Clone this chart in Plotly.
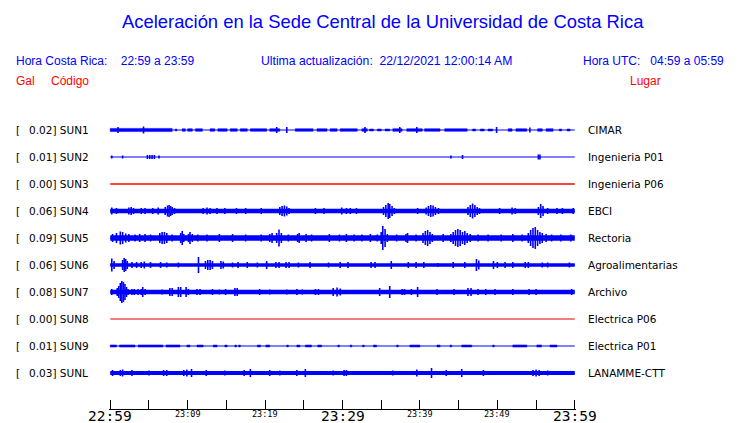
import plotly.graph_objects as go

# ---------------- data ----------------
CODES = ["SUN1", "SUN2", "SUN3", "SUN4", "SUN5", "SUN6", "SUN7", "SUN8", "SUN9", "SUNL"]
PLACES = ["CIMAR", "Ingenieria P01", "Ingenieria P06", "EBCI", "Rectoria",
          "Agroalimentarias", "Archivo", "Electrica P06", "Electrica P01", "LANAMME-CTT"]
GAL = [0.02, 0.01, 0.00, 0.06, 0.09, 0.06, 0.08, 0.00, 0.01, 0.03]
ACTIVE = [True, True, False, True, True, True, True, False, True, True]

# steady background noise half-amplitude (trace units)
BAND = [0, 0, 0, 2.3, 2.7, 1.8, 2.2, 0, 0, 2.0]

# intermittent activity windows: (start_min, end_min, half-amplitude)
SEG_SUN1 = [(0, 8, 1.6), (8.4, 8.6, 1.0), (9.3, 9.7, 1.3), (10, 10.6, 1.3), (11, 11.9, 1.3),
            (12.9, 13.5, 1.3), (13.9, 15.1, 1.3), (15.5, 16.4, 1.3), (16.8, 17.7, 1.3),
            (18.1, 20.2, 1.3), (20.6, 21.9, 1.3), (23.9, 26.2, 1.3), (26.7, 28, 1.3),
            (28.4, 29.3, 1.3), (29.7, 31.9, 1.3), (32.5, 33.2, 1.3), (33.5, 34, 1.0),
            (34.5, 35, 1.0), (35.5, 36.1, 1.0), (36.5, 37.7, 1.3), (38.3, 40.3, 1.3),
            (40.6, 42.6, 1.3), (43.2, 46.1, 1.3), (46.8, 47.2, 1.0), (47.8, 48.3, 1.0),
            (48.8, 49.4, 1.0), (51.4, 51.9, 1.3), (52.4, 53.8, 1.3), (55.2, 55.8, 1.3),
            (56.3, 57.2, 1.3), (58, 58.3, 1.0), (59, 59.4, 1.0)]
SEG_SUN9 = [(0, 0.8, 1.1), (1.2, 3.2, 1.1), (3.6, 6.8, 1.1), (7.2, 9, 1.1), (9.9, 10.3, 1.0),
            (11.2, 12, 1.0), (13.3, 13.8, 1.0), (14.8, 15.1, 1.0), (16.1, 16.3, 1.0),
            (16.6, 16.8, 1.0), (19, 19.4, 1.0), (20.1, 20.6, 1.0), (22.8, 23, 1.0),
            (24.1, 24.5, 1.0), (25.2, 26, 1.0), (26.8, 27.3, 1.0), (29.4, 29.6, 1.0),
            (31, 31.2, 1.0), (32.6, 32.8, 1.0), (34, 34.4, 1.0), (37, 37.2, 1.0),
            (38.7, 40, 1.0), (42.2, 42.6, 1.0), (43.9, 44.1, 1.0), (45.4, 46.7, 1.0),
            (49.4, 49.6, 1.0), (52, 53.8, 1.1), (55.1, 55.7, 1.1), (56.8, 57.7, 1.0)]

# peaks: (minute, half-amplitude)
SPK_SUN1 = [(1, 3), (4.3, 3.5), (21.5, 3), (22.8, 3), (32.9, 3), (37.4, 3), (39.6, 3),
            (49.9, 3), (54.2, 2.5)]
SPK_SUN2 = [(0.2, 1.5), (1.6, 1.5), (4.8, 2), (5.1, 2), (5.4, 2), (5.7, 2), (6.3, 1.5),
            (44, 1.5), (45.5, 2), (55.3, 2.5), (55.5, 2.5)]
SPK_SUN4 = [(0.2, 3.5), (0.8, 3), (2.4, 3.5), (2.7, 4), (3.0, 3), (4.0, 3), (4.5, 3), (5.5, 3),
            (6.2, 3.5), (7.1, 4), (7.4, 5.5), (7.6, 6), (7.8, 5), (8.0, 4), (8.3, 3), (12, 3),
            (12.5, 3.5), (12.9, 3), (13.8, 3), (14.8, 3), (16.3, 3), (17.5, 3), (19.5, 3),
            (21.9, 4), (22.2, 5), (22.5, 5.5), (22.8, 4.5), (23.1, 3), (26.5, 3), (27.6, 3),
            (29.9, 3.5), (30.5, 3), (31.0, 3), (31.8, 3), (35.3, 4), (35.6, 6), (35.9, 8),
            (36.1, 7), (36.4, 5), (36.7, 3), (39.7, 3), (40.8, 3.5), (41.1, 5), (41.4, 6),
            (41.7, 5.5), (42.0, 4), (42.4, 3), (46.2, 4), (46.5, 6), (46.8, 7.5), (47.1, 6),
            (47.4, 4), (47.7, 3), (50.3, 3), (51.9, 3.5), (52.3, 3), (55.3, 4), (55.6, 7),
            (55.9, 5), (56.5, 3), (57.7, 3), (58.4, 3), (59.8, 3)]
SPK_SUN5 = [(0.3, 4), (0.8, 5), (1.3, 6.5), (1.6, 6), (2.0, 4.5), (2.4, 4), (3.2, 3.5),
            (3.8, 4), (4.5, 4), (5.2, 3.5), (6.4, 5), (6.7, 6), (7.0, 6), (7.3, 5), (8.0, 3.5),
            (9.1, 5), (9.3, 7), (9.5, 4), (10.1, 4), (10.3, 6), (10.6, 4), (11.3, 3.5),
            (12.5, 3.5), (14.1, 4), (15.8, 4), (17.5, 3.5), (19.5, 3.5), (20.6, 4), (20.9, 5),
            (21.5, 5), (21.8, 8.5), (22.1, 5), (23.0, 3.5), (24.2, 4), (24.4, 5), (25.3, 4),
            (26.0, 3.5), (28.3, 4), (29.6, 3.5), (30.5, 4), (31.5, 3.5), (32.5, 3.5), (33.6, 4),
            (34.5, 3.5), (35.0, 6), (35.2, 12), (35.5, 9), (35.8, 4), (37.0, 3.5), (38.2, 4),
            (38.4, 5), (39.5, 3.5), (40.4, 5), (40.7, 7), (41.0, 8), (41.3, 6), (41.6, 4),
            (43.0, 4), (44.0, 4), (44.3, 6), (44.6, 8), (44.9, 9), (45.2, 8), (45.5, 6),
            (45.8, 7), (46.1, 5), (46.5, 4), (47.5, 3.5), (48.8, 3.5), (50.5, 3.5), (52.0, 4),
            (53.2, 3.5), (54.0, 5), (54.3, 8), (54.6, 10), (54.9, 11), (55.2, 8), (55.5, 6),
            (55.8, 5), (56.3, 4), (57.0, 3.5), (58.2, 3.5), (59.5, 3.5)]
SPK_SUN6 = [(0.2, 6.5), (0.5, 4), (1.6, 5), (1.8, 7), (2.0, 6), (2.2, 4), (2.8, 3), (3.4, 3),
            (4.0, 3), (4.4, 3.5), (5.2, 3), (6.5, 3), (7.3, 2.5), (8.8, 2.5), (11.4, 8),
            (12.3, 4), (12.6, 5), (12.9, 5), (13.2, 4), (14.3, 4), (14.6, 3.5), (15.8, 2.5),
            (16.5, 3), (17.7, 3), (19.0, 2.5), (20.2, 4), (21.4, 3), (21.8, 3), (22.7, 3),
            (23.1, 3), (24.3, 2.5), (25.8, 3), (28.2, 2.5), (29.7, 3), (30.7, 3), (33.7, 3),
            (34.2, 3), (36.3, 4), (38.5, 3), (39.5, 3), (40.5, 3), (42.3, 2), (44.3, 3),
            (45.8, 3), (47.3, 6), (47.6, 4.5), (49.5, 4), (50.0, 3), (51.0, 3), (52.0, 3),
            (53.6, 3), (54.0, 3), (55.8, 2.5), (56.5, 2.5), (59.3, 2.5)]
SPK_SUN7 = [(0.2, 3), (0.9, 4), (1.1, 6), (1.3, 9), (1.5, 11), (1.7, 10), (1.9, 8), (2.1, 5),
            (2.3, 3), (2.8, 3), (3.1, 3), (3.6, 3), (4.0, 3), (4.2, 5), (4.5, 3), (6.7, 2.5),
            (7.7, 4), (8.0, 4), (8.8, 5), (9.1, 5), (9.8, 5), (10.1, 3), (11.2, 3), (11.6, 3),
            (13.2, 3), (14.1, 2.5), (14.9, 3), (16.1, 4), (16.4, 4), (19.3, 3), (20.6, 2.5),
            (22.8, 2.5), (24.1, 3), (24.8, 2.5), (26.5, 3), (26.9, 3), (28.8, 4), (29.3, 4.5),
            (29.7, 3.5), (34.8, 4), (36.1, 6), (37.7, 3), (38.0, 3), (38.9, 3), (39.7, 5),
            (42.2, 3), (44.4, 3), (46.2, 4), (46.6, 4), (47.5, 3), (48.5, 3), (49.7, 3),
            (52.0, 3), (54.1, 3), (55.0, 3), (59.6, 3)]
SPK_SUNL = [(0.3, 3), (1.3, 3), (1.6, 3.5), (2.8, 3), (5.0, 2.5), (6.9, 3), (7.3, 3), (9.5, 3),
            (9.9, 3.5), (10.5, 4), (12.4, 3), (14.8, 2.5), (17.3, 3), (18.1, 4), (20.6, 3),
            (21.9, 2.5), (24.1, 3), (25.2, 4), (28.8, 2.5), (30.2, 3), (30.5, 3), (36.5, 2.5),
            (39.6, 3.5), (41.5, 5), (43.4, 3), (45.4, 4), (48.2, 3), (54.6, 3), (55.0, 3.5),
            (55.4, 3), (56.5, 2.5)]

SEGMENTS = [SEG_SUN1, [], [], [], [], [], [], [], SEG_SUN9, []]
SPIKES = [SPK_SUN1, SPK_SUN2, [], SPK_SUN4, SPK_SUN5, SPK_SUN6, SPK_SUN7, [], [], SPK_SUNL]

T_START, T_END = 0, 60          # minutes after 22:59
TICK_MIN = [0, 10, 20, 30, 40, 50, 60]
TICK_LBL = ["22:59", "23:09", "23:19", "23:29", "23:39", "23:49", "23:59"]
TICK_BIG = [True, False, False, True, False, False, True]

# ---------------- styling ----------------
ROW = 27
BLUE = "#0000ff"
RED = "#ff0000"
W, H = 740, 423
L, R, T, B = 109, 164, 100, 14
PW, PH = W - L - R, H - T - B
PAD = 0.16   # small range padding so the end ticks are drawn


def px_x(xp):
    return (xp - L) / PW


def px_y(yp):
    return (H - B - yp) / PH


fig = go.Figure()

for i, code in enumerate(CODES):
    c = -ROW * i
    color = BLUE if ACTIVE[i] else RED
    lw = 1.2 if ACTIVE[i] else (1.6 if code == "SUN3" else 1.2)
    lcolor = color if code != "SUN8" else "#e00000"
    # base line
    fig.add_trace(go.Scatter(x=[T_START, T_END], y=[c, c], mode="lines",
                             line=dict(color=lcolor, width=lw), hoverinfo="skip"))
    # steady band
    b = BAND[i]
    if b > 0:
        fig.add_trace(go.Scatter(x=[T_START, T_END, T_END, T_START, T_START],
                                 y=[c - b, c - b, c + b, c + b, c - b],
                                 mode="lines", fill="toself", fillcolor=color,
                                 line=dict(width=0, color=color), hoverinfo="skip"))
    # activity windows
    if SEGMENTS[i]:
        xs, ys = [], []
        for t0, t1, a in SEGMENTS[i]:
            xs += [t0, t1, t1, t0, t0, None]
            ys += [c - a, c - a, c + a, c + a, c - a, None]
        fig.add_trace(go.Scatter(x=xs, y=ys, mode="lines", fill="toself", fillcolor=color,
                                 line=dict(width=0.5, color=color), hoverinfo="skip"))
    # peaks
    if SPIKES[i]:
        xs, ys = [], []
        for t, a in SPIKES[i]:
            xs += [t, t, None]
            ys += [c - a, c + a, None]
        fig.add_trace(go.Scatter(x=xs, y=ys, mode="lines",
                                 line=dict(color=color, width=1.6), hoverinfo="skip"))

ann = []
TXT = "DejaVu Sans"
HDR = "Liberation Sans, Arial, sans-serif"

ann.append(dict(x=px_x(382.5), y=px_y(22), text="Aceleración en la Sede Central de la Universidad de Costa Rica",
                xanchor="center", yanchor="middle", font=dict(family=HDR, size=18.4, color=BLUE)))
ann.append(dict(x=px_x(14), y=px_y(61), text="Hora Costa Rica:\u00a0\u00a0\u00a0 22:59 a 23:59",
                xanchor="left", yanchor="middle", font=dict(family=HDR, size=12, color=BLUE)))
ann.append(dict(x=px_x(259), y=px_y(61), text="Ultima actualización:\u00a0 22/12/2021 12:00:14 AM",
                xanchor="left", yanchor="middle", font=dict(family=HDR, size=12.2, color=BLUE)))
ann.append(dict(x=px_x(726), y=px_y(61), text="Hora UTC:\u00a0\u00a0 04:59 a 05:59",
                xanchor="right", yanchor="middle", font=dict(family=HDR, size=12, color=BLUE)))
ann.append(dict(x=px_x(14), y=px_y(81), text="Gal", xanchor="left", yanchor="middle",
                font=dict(family=HDR, size=12, color=RED)))
ann.append(dict(x=px_x(49), y=px_y(81), text="Código", xanchor="left", yanchor="middle",
                font=dict(family=HDR, size=12, color=RED)))
ann.append(dict(x=px_x(628), y=px_y(81), text="Lugar", xanchor="left", yanchor="middle",
                font=dict(family=HDR, size=12, color=RED)))

for i, code in enumerate(CODES):
    yc = -ROW * i
    ann.append(dict(x=px_x(14), y=yc, yref="y", text="[", xanchor="left", yanchor="middle",
                    font=dict(family=TXT, size=10.5, color="black")))
    ann.append(dict(x=px_x(27), y=yc, yref="y", text=f"{GAL[i]:.2f}] {code}",
                    xanchor="left", yanchor="middle", font=dict(family=TXT, size=10.5, color="black")))
    ann.append(dict(x=px_x(586), y=yc, yref="y", text=PLACES[i], xanchor="left", yanchor="middle",
                    font=dict(family=TXT, size=10.5, color="black")))

for m, lbl, big in zip(TICK_MIN, TICK_LBL, TICK_BIG):
    ann.append(dict(x=m, xref="x", y=px_y(416 if big else 414), text=lbl, xanchor="center",
                    yanchor="middle",
                    font=dict(family="DejaVu Sans Mono", size=14.5 if big else 8.5, color="black")))

for a in ann:
    a.setdefault("xref", "paper")
    a.setdefault("yref", "paper")
    a["showarrow"] = False

fig.update_layout(
    width=W, height=H, margin=dict(l=L, r=R, t=T, b=B),
    paper_bgcolor="white", plot_bgcolor="white", showlegend=False,
    annotations=ann,
    xaxis=dict(range=[T_START - PAD, T_END + PAD], showgrid=False, zeroline=False,
               showline=True, linecolor="black", linewidth=1, ticks="inside", ticklen=9,
               tickcolor="black", tickwidth=1, tick0=0, dtick=5, showticklabels=False,
               fixedrange=True),
    yaxis=dict(range=[-ROW * 9 - 36, 30], visible=False, fixedrange=True),
)

fig.write_html("out.html", config={"displayModeBar": False},
               post_script="document.body.style.margin='0';document.body.style.overflow='hidden';")
